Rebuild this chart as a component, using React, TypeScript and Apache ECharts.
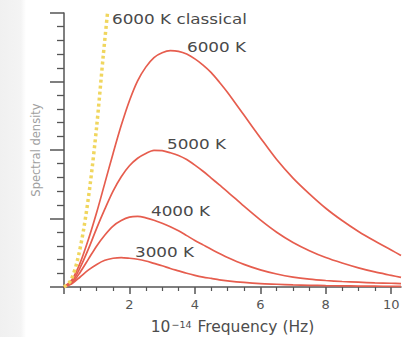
import React, { useEffect, useRef } from "react";
import * as echarts from "echarts";

// Frequency (10^14 Hz) grid and spectral density
const freq = [
  0, 0.25, 0.5, 0.75, 1, 1.25, 1.5, 1.75, 2, 2.25, 2.5, 2.75, 3, 3.25, 3.5, 3.75, 4, 4.25, 4.5, 4.75, 5,
  5.5, 6, 6.5, 7, 7.5, 8, 8.5, 9, 9.5, 10, 10.3,
];
const dens6000 = [
  0, 0.11, 0.36, 0.7, 1.09, 1.52, 1.95, 2.36, 2.72, 3.01, 3.21, 3.35, 3.42, 3.45, 3.44, 3.4, 3.33, 3.24, 3.13, 2.99, 2.84,
  2.51, 2.18, 1.86, 1.59, 1.36, 1.15, 0.97, 0.81, 0.67, 0.54, 0.46,
];
const dens5000 = [
  0, 0.08, 0.29, 0.56, 0.86, 1.14, 1.4, 1.61, 1.77, 1.88, 1.95, 1.995, 1.99, 1.96, 1.92, 1.86, 1.78, 1.69, 1.59, 1.49, 1.39,
  1.18, 0.98, 0.8, 0.65, 0.53, 0.43, 0.35, 0.28, 0.22, 0.17, 0.14,
];
const dens4000 = [
  0, 0.06, 0.22, 0.41, 0.6, 0.76, 0.89, 0.97, 1.02, 1.03, 1.01, 0.975, 0.93, 0.88, 0.82, 0.75, 0.68, 0.615, 0.55, 0.49, 0.43,
  0.33, 0.25, 0.19, 0.145, 0.115, 0.095, 0.08, 0.07, 0.06, 0.055, 0.05,
];
const dens3000 = [
  0, 0.05, 0.15, 0.25, 0.33, 0.39, 0.42, 0.43, 0.42, 0.405, 0.38, 0.345, 0.31, 0.27, 0.235, 0.2, 0.17, 0.145, 0.125, 0.105, 0.09,
  0.067, 0.05, 0.04, 0.03, 0.025, 0.02, 0.017, 0.014, 0.012, 0.01, 0.01,
];

const freqClassical = [0, 0.2, 0.4, 0.6, 0.8, 1.0, 1.2, 1.33];
const densClassical = [0, 0.09, 0.37, 0.84, 1.5, 2.35, 3.38, 4.0];

const xTickLabels = [2, 4, 6, 8, 10];

const curveLabels = ["6000 K classical", "6000 K", "5000 K", "4000 K", "3000 K"];

const pairs = (xs: number[], ys: number[]) => xs.map((x, i) => [x, ys[i]]);

export default function App() {
  const ref = useRef<HTMLDivElement>(null);

  useEffect(() => {
    if (!ref.current) return;
    const chart = echarts.init(ref.current, undefined, { renderer: "svg" });
    const red = "#e65d4e";
    const labelPos = [
      [112, 19],
      [187, 47],
      [167, 144],
      [151, 211],
      [135, 252],
    ];
    const option: any = {
      animation: false,
      backgroundColor: "#ffffff",
      grid: { left: 64, right: 8, top: 13, bottom: 50, outerBoundsMode: "none" },
      xAxis: {
        type: "value",
        min: 0,
        max: 10.3,
        interval: 2,
        name: "{a|10}{b|\u221214}{a| Frequency (Hz)}",
        nameLocation: "middle",
        nameGap: 32,
        nameTextStyle: {
          rich: {
            a: { fontFamily: "DejaVu Sans", fontSize: 15.5, color: "#4d4d4d" },
            b: { fontFamily: "DejaVu Sans", fontSize: 9.5, color: "#4d4d4d", verticalAlign: "top", padding: [0, 1, 6, 1] },
          },
        },
        axisLine: { show: true, lineStyle: { color: "#555555", width: 1.5 } },
        axisTick: { show: true, length: 7, inside: false, lineStyle: { color: "#555555", width: 1.5 }, customValues: [0, ...xTickLabels] },
        minorTick: { show: true, splitNumber: 4, length: 4, lineStyle: { color: "#555555", width: 1.2 } },
        axisLabel: {
          show: true,
          margin: 11,
          fontFamily: "DejaVu Sans",
          fontSize: 13,
          color: "#555555",
          customValues: xTickLabels,
          formatter: (v: number) => (xTickLabels.indexOf(v) >= 0 ? String(v) : ""),
        },
        splitLine: { show: false },
        minorSplitLine: { show: false },
      },
      yAxis: {
        type: "value",
        min: 0,
        max: 4,
        interval: 1,
        offset: 6,
        name: "Spectral density",
        nameLocation: "middle",
        nameGap: 16,
        nameTextStyle: { fontFamily: "DejaVu Sans", fontSize: 11.5, color: "#a0a0a0" },
        axisLine: { show: true, lineStyle: { color: "#555555", width: 1.5 } },
        axisTick: { show: true, length: 14, inside: false, lineStyle: { color: "#555555", width: 1.5 } },
        minorTick: { show: true, splitNumber: 5, length: 7, lineStyle: { color: "#555555", width: 1.3 } },
        axisLabel: { show: false },
        splitLine: { show: false },
        minorSplitLine: { show: false },
      },
      graphic: [
        {
          type: "rect",
          left: 0,
          top: 0,
          shape: { width: 26, height: 337 },
          style: {
            fill: new echarts.graphic.LinearGradient(0, 0, 1, 0, [
              { offset: 0, color: "#f0f0f0" },
              { offset: 0.8, color: "#f4f4f4" },
              { offset: 1, color: "#ffffff" },
            ]),
          },
          z: -10,
          silent: true,
        },
        ...curveLabels.map((t, i) => ({
          type: "text",
          x: labelPos[i][0],
          y: labelPos[i][1],
          scaleX: 1.2,
          style: {
            text: t,
            fontFamily: "DejaVu Sans",
            fontSize: 14,
            fill: "#4a4a4a",
            textVerticalAlign: "middle",
            verticalAlign: "middle",
          },
          z: 10,
        })),
      ],
      series: [
        { name: "6000 K", data: pairs(freq, dens6000) },
        { name: "5000 K", data: pairs(freq, dens5000) },
        { name: "4000 K", data: pairs(freq, dens4000) },
        { name: "3000 K", data: pairs(freq, dens3000) },
      ]
        .map((s) => ({
          ...s,
          type: "line",
          smooth: 0.3,
          showSymbol: false,
          symbol: "none",
          lineStyle: { color: red, width: 1.7 },
          itemStyle: { color: red },
        }))
        .concat([
          {
            name: "6000 K classical",
            data: pairs(freqClassical, densClassical),
            type: "line",
            smooth: 0.3,
            showSymbol: false,
            symbol: "none",
            lineStyle: { color: "#f0d65e", width: 3.5, type: [3, 3] as any },
            itemStyle: { color: "#f0d65e" },
          } as any,
        ]),
    };
    chart.setOption(option);
    return () => chart.dispose();
  }, []);

  return <div ref={ref} style={{ position: "fixed", left: 0, top: 0, width: 409, height: 337 }} />;
}
